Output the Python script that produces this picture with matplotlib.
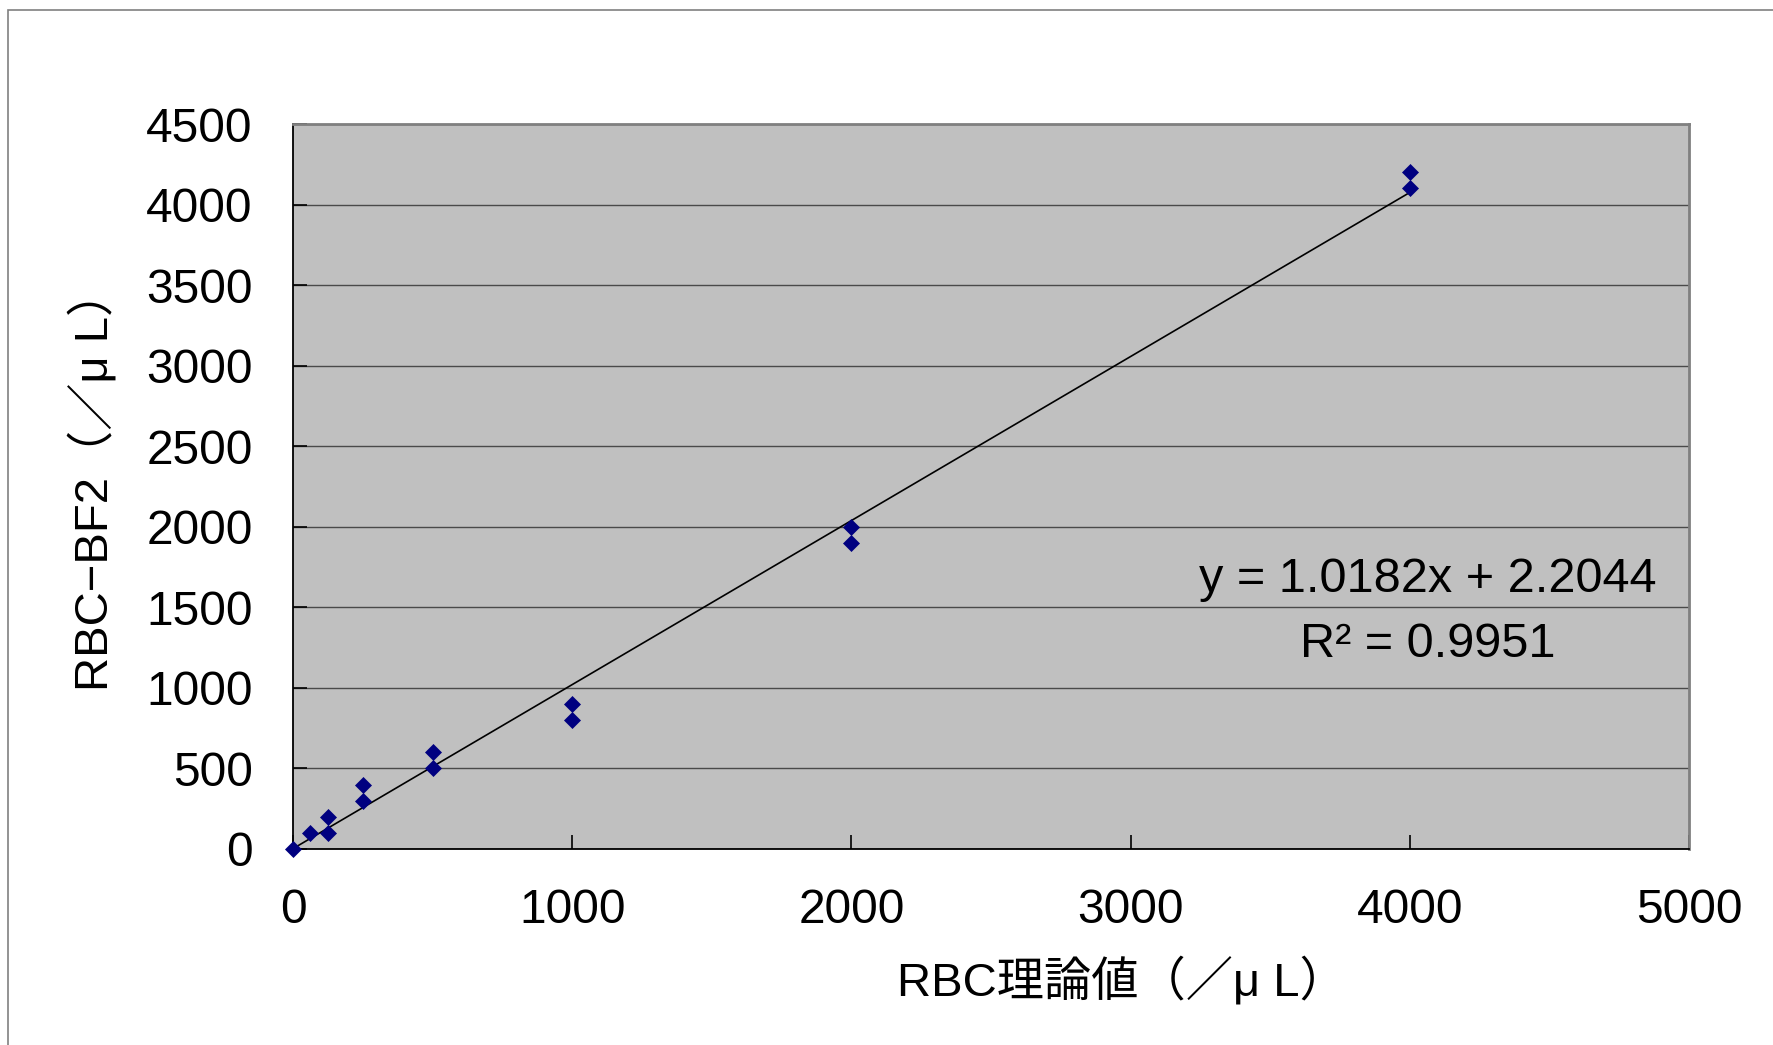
import numpy as np
import matplotlib.pyplot as plt
from matplotlib.patches import Rectangle

plt.rcParams['font.family'] = ['Liberation Sans', 'Noto Sans CJK JP', 'DejaVu Sans']

# Data
rbc_theory = [0, 62.5, 125, 125, 250, 250, 500, 500, 1000, 1000, 2000, 2000, 4000, 4000]
rbc_bf2 = [0, 100, 100, 200, 300, 400, 500, 600, 800, 900, 1900, 2000, 4100, 4200]
slope = 1.0182
intercept = 2.2044
r2 = 0.9951
x_ticks = [0, 1000, 2000, 3000, 4000, 5000]
y_ticks = [0, 500, 1000, 1500, 2000, 2500, 3000, 3500, 4000, 4500]

W, H = 1773, 1045
fig = plt.figure(figsize=(W / 100, H / 100), dpi=100)
fig.patch.set_facecolor('white')

# outer chart border
fig.patches.append(Rectangle((8 / W, -0.1), 1.2, 1 - 10 / H + 0.1, transform=fig.transFigure,
                             fill=False, edgecolor='#808080', linewidth=1.2))

ax = fig.add_axes([293 / W, 1 - 849 / H, (1689 - 293) / W, (849 - 124) / H])
ax.set_facecolor('#C0C0C0')

ax.set_xlim(0, 5000)
ax.set_ylim(0, 4500)
ax.set_xticks(x_ticks)
ax.set_yticks(y_ticks)
ax.yaxis.grid(True, color='#4a4a4a', linewidth=1.0)
ax.set_axisbelow(True)

# trendline
xs = np.array([min(rbc_theory), max(rbc_theory)])
ax.plot(xs, slope * xs + intercept, color='black', linewidth=1.2, zorder=3)

ax.plot(rbc_theory, rbc_bf2, linestyle='none', marker='D', markersize=8,
        color='#000080', markeredgewidth=0.5, zorder=4, clip_on=False)

for side in ['left', 'bottom']:
    ax.spines[side].set_color('black')
    ax.spines[side].set_linewidth(1.3)
for side in ['top', 'right']:
    ax.spines[side].set_color('#808080')
    ax.spines[side].set_linewidth(2)

ax.tick_params(axis='both', direction='in', length=10, width=1.2, colors='black',
               labelsize=34.5)
ax.tick_params(axis='y', pad=29)
ax.tick_params(axis='x', pad=28)

ax.set_xlabel('RBC理論値（／μ L）', fontsize=34)
ax.set_ylabel('RBC−BF2（／μ L）', fontsize=34)
ax.xaxis.set_label_coords(0.594, -0.182)
ax.xaxis.label.set_va('center')
ax.yaxis.set_label_coords(-0.143, 0.509)
ax.yaxis.label.set_va('center')
ax.yaxis.label.set_ha('center')

ax.text(0.813, 0.327, f'y = {slope}x + {intercept}\nR² = {r2}', transform=ax.transAxes,
        fontsize=35, ha='center', va='center', multialignment='center', linespacing=1.55)

fig.savefig('out.png', dpi=100, facecolor='white')
